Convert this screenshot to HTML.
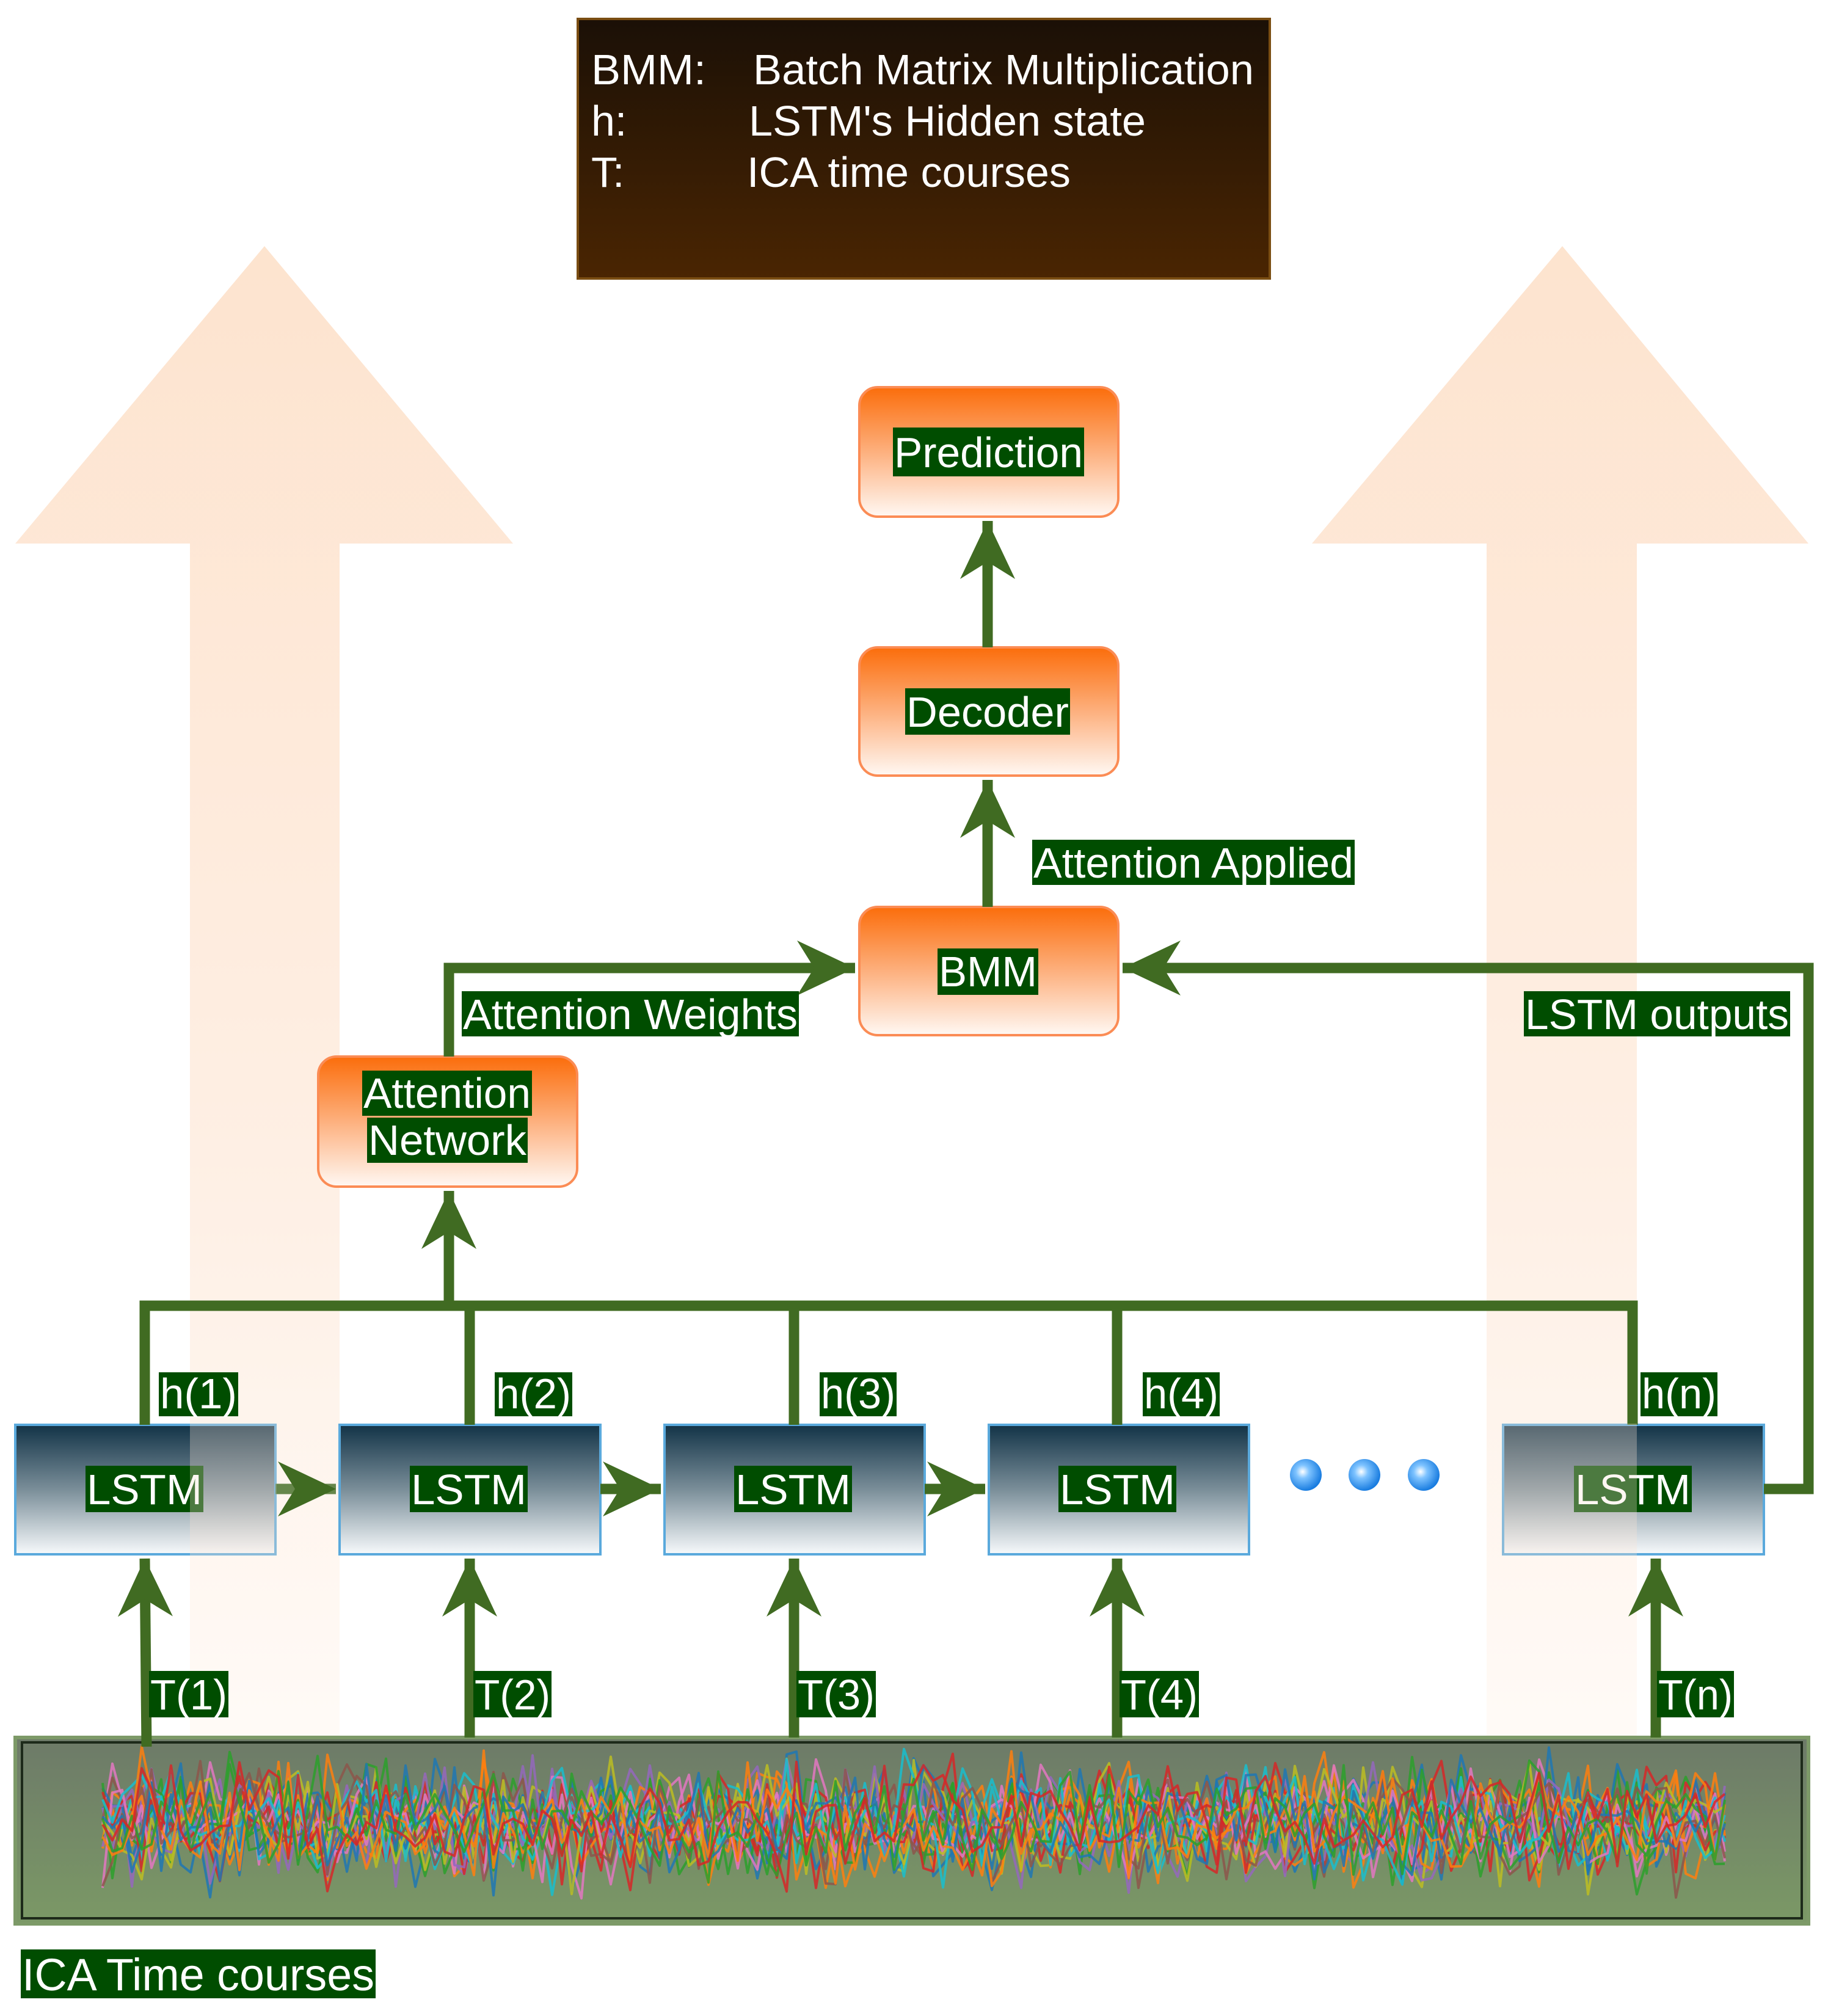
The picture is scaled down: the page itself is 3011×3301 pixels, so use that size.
<!DOCTYPE html>
<html><head><meta charset="utf-8"><style>
html,body{margin:0;padding:0;background:#fff}
svg{display:block}
text{font-family:"Liberation Sans",sans-serif}
</style></head><body>
<svg id="s" width="3011" height="3301" viewBox="0 0 3011 3301" xmlns="http://www.w3.org/2000/svg">
<defs>
<linearGradient id="leg" x1="0" y1="0" x2="0" y2="1"><stop offset="0" stop-color="#1b1006"/><stop offset="1" stop-color="#4a2502"/></linearGradient>
<linearGradient id="org" x1="0" y1="0" x2="0" y2="1"><stop offset="0" stop-color="#fb6d0b"/><stop offset="0.5" stop-color="#fdb07e"/><stop offset="1" stop-color="#fff8f3"/></linearGradient>
<linearGradient id="lstm" x1="0" y1="0" x2="0" y2="1"><stop offset="0" stop-color="#123347"/><stop offset="0.5" stop-color="#7a8e99"/><stop offset="1" stop-color="#f7fafc"/></linearGradient>
<linearGradient id="peach" x1="0" y1="0" x2="0" y2="1"><stop offset="0" stop-color="#fde2cc"/><stop offset="0.6" stop-color="#feeee2"/><stop offset="1" stop-color="#fffaf6"/></linearGradient>
<linearGradient id="panel" x1="0" y1="0" x2="0" y2="1"><stop offset="0" stop-color="#6d7a68"/><stop offset="1" stop-color="#7b9966"/></linearGradient>
<radialGradient id="dot" cx="0.4" cy="0.4" r="0.6"><stop offset="0" stop-color="#ffffff"/><stop offset="0.35" stop-color="#7ec3ff"/><stop offset="1" stop-color="#1a7de0"/></radialGradient>
<marker id="ah" markerUnits="userSpaceOnUse" markerWidth="110" markerHeight="110" refX="95" refY="45" orient="auto">
<path d="M0,0 L95,45 L0,90 L28,45 Z" fill="#406b22"/></marker>
</defs>

<polygon points="433,403 840,890 556,890 556,2845 311,2845 311,890 25,890" fill="url(#peach)" opacity="0.95"/>
<polygon points="2558,403 2961,890 2680,890 2680,2845 2434,2845 2434,890 2148,890" fill="url(#peach)" opacity="0.95"/>

<rect x="946" y="31" width="1133" height="425" fill="url(#leg)" stroke="#7a4d12" stroke-width="4"/>
<g fill="#fff" font-size="70">
<text x="968" y="138" textLength="188" lengthAdjust="spacingAndGlyphs">BMM:</text><text x="1233" y="138" textLength="820" lengthAdjust="spacingAndGlyphs">Batch Matrix Multiplication</text>
<text x="968" y="222">h:</text><text x="1226" y="222" textLength="650" lengthAdjust="spacingAndGlyphs">LSTM's Hidden state</text>
<text x="968" y="306">T:</text><text x="1223" y="306" textLength="530" lengthAdjust="spacingAndGlyphs">ICA time courses</text>
</g>

<g stroke="#fb8c55" stroke-width="4" fill="url(#org)">
<rect x="1407" y="634" width="424" height="212" rx="30"/>
<rect x="1407" y="1060" width="424" height="210" rx="30"/>
<rect x="1407" y="1485" width="424" height="210" rx="30"/>
<rect x="521" y="1730" width="424" height="213" rx="30"/>
</g>

<g stroke="#5aa9dc" stroke-width="4" fill="url(#lstm)">
<rect x="25" y="2333" width="426" height="212"/>
<rect x="556" y="2333" width="427" height="212"/>
<rect x="1088" y="2333" width="426" height="212"/>
<rect x="1619" y="2333" width="426" height="212"/>
<rect x="2461" y="2333" width="427" height="212"/>
</g>
<circle cx="2138" cy="2415" r="26" fill="url(#dot)"/>
<circle cx="2234" cy="2415" r="26" fill="url(#dot)"/>
<circle cx="2331" cy="2415" r="26" fill="url(#dot)"/>

<rect x="25" y="2845" width="2936" height="305" fill="url(#panel)" stroke="#7d9a68" stroke-width="6"/>
<rect x="36" y="2853" width="2914" height="288" fill="none" stroke="#1d2a1a" stroke-width="4"/>
<g id="noise" fill="none" stroke-width="4" stroke-linejoin="round"></g>

<g stroke="#406b22" stroke-width="17" fill="none">
<polyline points="237,2333 237,2138 2673,2138 2673,2333"/>
<line x1="769" y1="2138" x2="769" y2="2333"/>
<line x1="1300" y1="2138" x2="1300" y2="2333"/>
<line x1="1829" y1="2138" x2="1829" y2="2333"/>
<line x1="735" y1="2138" x2="735" y2="1950" marker-end="url(#ah)"/>
<polyline points="735,1730 735,1585 1400,1585" marker-end="url(#ah)"/>
<polyline points="2888,2438 2961,2438 2961,1585 1838,1585" marker-end="url(#ah)"/>
<line x1="1617" y1="1485" x2="1617" y2="1277" marker-end="url(#ah)"/>
<line x1="1617" y1="1060" x2="1617" y2="853" marker-end="url(#ah)"/>
<line x1="451" y1="2438" x2="550" y2="2438" marker-end="url(#ah)" stroke-opacity="0.8"/>
<line x1="983" y1="2438" x2="1082" y2="2438" marker-end="url(#ah)"/>
<line x1="1514" y1="2438" x2="1613" y2="2438" marker-end="url(#ah)"/>
<line x1="240" y1="2860" x2="237" y2="2552" marker-end="url(#ah)"/>
<line x1="769" y1="2845" x2="769" y2="2552" marker-end="url(#ah)"/>
<line x1="1300" y1="2845" x2="1300" y2="2552" marker-end="url(#ah)"/>
<line x1="1829" y1="2845" x2="1829" y2="2552" marker-end="url(#ah)"/>
<line x1="2711" y1="2845" x2="2711" y2="2552" marker-end="url(#ah)"/>
</g>

<g font-size="70" fill="#fff">
<g fill="#004d00">
<rect x="1462" y="700" width="313" height="80"/>
<rect x="1482" y="1127" width="270" height="76"/>
<rect x="1535" y="1553" width="165" height="76"/>
<rect x="593" y="1753" width="278" height="74"/>
<rect x="601" y="1830" width="263" height="74"/>
<rect x="756" y="1623" width="552" height="74"/>
<rect x="1690" y="1375" width="528" height="74"/>
<rect x="2495" y="1623" width="436" height="74"/>
<rect x="140" y="2400" width="193" height="76"/>
<rect x="671" y="2400" width="193" height="76"/>
<rect x="1202" y="2400" width="193" height="76"/>
<rect x="1733" y="2400" width="193" height="76"/>
<rect x="2577" y="2400" width="193" height="76"/>
<rect x="260" y="2247" width="130" height="72"/>
<rect x="810" y="2247" width="127" height="72"/>
<rect x="1342" y="2247" width="126" height="72"/>
<rect x="1871" y="2247" width="126" height="72"/>
<rect x="2686" y="2247" width="126" height="72"/>
<rect x="244" y="2736" width="130" height="76"/>
<rect x="775" y="2736" width="128" height="76"/>
<rect x="1304" y="2736" width="130" height="76"/>
<rect x="1833" y="2736" width="130" height="76"/>
<rect x="2713" y="2736" width="126" height="76"/>
<rect x="34" y="3192" width="581" height="80"/>
</g>
<g lengthAdjust="spacingAndGlyphs">
<text x="1464" y="765" textLength="309" lengthAdjust="spacingAndGlyphs">Prediction</text>
<text x="1484" y="1190" textLength="266" lengthAdjust="spacingAndGlyphs">Decoder</text>
<text x="1537" y="1615" textLength="161" lengthAdjust="spacingAndGlyphs">BMM</text>
<text x="595" y="1814" textLength="274" lengthAdjust="spacingAndGlyphs">Attention</text>
<text x="603" y="1891" textLength="259" lengthAdjust="spacingAndGlyphs">Network</text>
<text x="142" y="2463" textLength="189" lengthAdjust="spacingAndGlyphs">LSTM</text>
<text x="673" y="2463" textLength="189" lengthAdjust="spacingAndGlyphs">LSTM</text>
<text x="1204" y="2463" textLength="189" lengthAdjust="spacingAndGlyphs">LSTM</text>
<text x="1735" y="2463" textLength="189" lengthAdjust="spacingAndGlyphs">LSTM</text>
<text x="2579" y="2463" textLength="189" lengthAdjust="spacingAndGlyphs">LSTM</text>
<text x="262" y="2306" textLength="126" lengthAdjust="spacingAndGlyphs">h(1)</text>
<text x="812" y="2306" textLength="123" lengthAdjust="spacingAndGlyphs">h(2)</text>
<text x="1344" y="2306" textLength="122" lengthAdjust="spacingAndGlyphs">h(3)</text>
<text x="1873" y="2306" textLength="122" lengthAdjust="spacingAndGlyphs">h(4)</text>
<text x="2688" y="2306" textLength="122" lengthAdjust="spacingAndGlyphs">h(n)</text>
<text x="246" y="2799" textLength="126" lengthAdjust="spacingAndGlyphs">T(1)</text>
<text x="777" y="2799" textLength="124" lengthAdjust="spacingAndGlyphs">T(2)</text>
<text x="1306" y="2799" textLength="126" lengthAdjust="spacingAndGlyphs">T(3)</text>
<text x="1835" y="2799" textLength="126" lengthAdjust="spacingAndGlyphs">T(4)</text>
<text x="2715" y="2799" textLength="122" lengthAdjust="spacingAndGlyphs">T(n)</text>
<text x="758" y="1685" textLength="548" lengthAdjust="spacingAndGlyphs">Attention Weights</text>
<text x="1692" y="1437" textLength="524" lengthAdjust="spacingAndGlyphs">Attention Applied</text>
<text x="2497" y="1685" textLength="432" lengthAdjust="spacingAndGlyphs">LSTM outputs</text>
<text x="36" y="3259" font-size="74" textLength="577" lengthAdjust="spacingAndGlyphs">ICA Time courses</text>
</g>
</g>
<!-- translucent peach overlay where big arrow shafts cross LSTM boxes -->
<rect x="311" y="2331" width="142" height="216" fill="#fde6d4" opacity="0.3"/>
<rect x="2459" y="2331" width="221" height="216" fill="#fde6d4" opacity="0.3"/>
</svg>
<script>
(function(){
var g=document.getElementById('noise');
var cols=['#1f77b4','#ff7f0e','#2ca02c','#d62728','#9467bd','#e377c2','#bcbd22','#17becf','#8c564b'];
var seed=7;function r(){seed=(seed*16807)%2147483647;return seed/2147483647;}
for(var k=0;k<22;k++){
 var p=[];for(var x=168;x<=2824;x+=16){p.push(x+','+(2985+(r()+r()+r()-1.5)*90).toFixed(1));}
 var e=document.createElementNS('http://www.w3.org/2000/svg','polyline');
 e.setAttribute('points',p.join(' '));e.setAttribute('stroke',cols[k%cols.length]);e.setAttribute('stroke-opacity','0.85');
 g.appendChild(e);
}
})();
</script>
</body></html>
